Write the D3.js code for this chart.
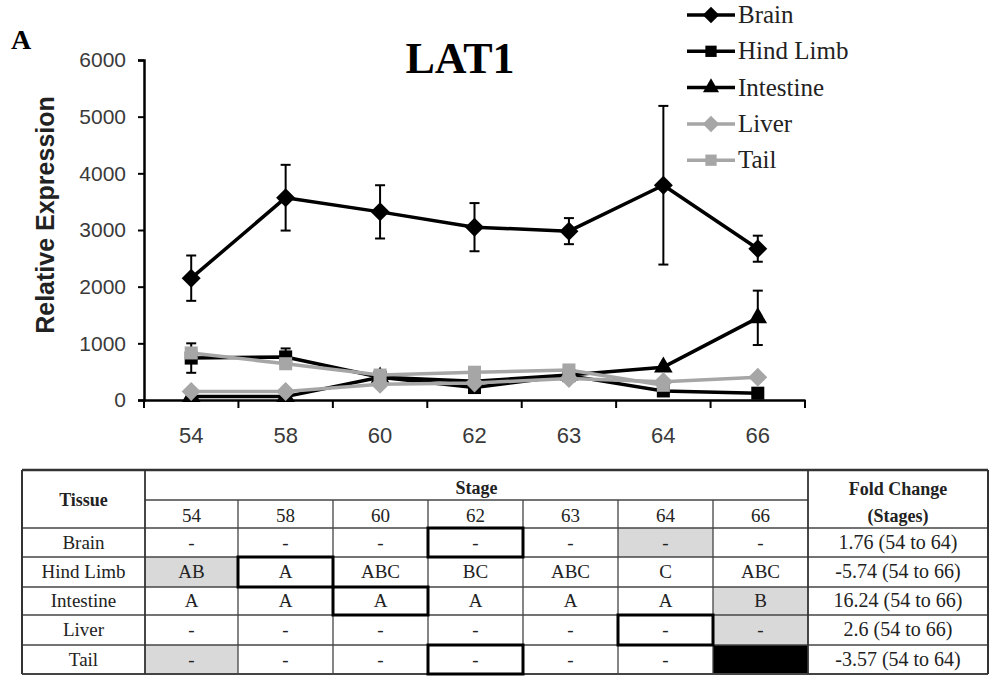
<!DOCTYPE html>
<html><head><meta charset="utf-8">
<script src="https://cdn.jsdelivr.net/npm/d3@7"></script>
<style>body{margin:0;background:#fff}svg{display:block}</style>
</head><body>
<script>
const stages = ["54","58","60","62","63","64","66"];
const yTicks = [0,1000,2000,3000,4000,5000,6000];
const seriesNames = ["Brain","Hind Limb","Intestine","Liver","Tail"];
const brain = [2150,3570,3320,3050,2980,3790,2670];
const brainErr = [400,580,470,425,230,1400,230];
const hindLimb = [740,760,400,220,430,160,120];
const hindLimbErr = [260,150,0,0,0,0,0];
const intestine = [60,60,400,330,440,580,1450];
const intestineErr = [0,0,0,0,0,0,480];
const liver = [150,150,280,300,380,320,400];
const tail = [830,640,440,490,530,260,null];
const seriesColors = ["#000","#000","#000","#a6a6a6","#a6a6a6"];
const seriesSymbols = ["diamond","square","triangle","diamond","square"];

const tissues = ["Brain","Hind Limb","Intestine","Liver","Tail"];
const letters = [
  ["-","-","-","-","-","-","-"],
  ["AB","A","ABC","BC","ABC","C","ABC"],
  ["A","A","A","A","A","A","B"],
  ["-","-","-","-","-","-","-"],
  ["-","-","-","-","-","-",""]
];
const foldChange = ["1.76 (54 to 64)","-5.74 (54 to 66)","16.24 (54 to 66)","2.6 (54 to 66)","-3.57 (54 to 64)"];
// cell styles: g = gray fill, b = thick box, k = black fill
const cellStyle = [
  ["","","","b","","g",""],
  ["g","b","","","","",""],
  ["","","b","","","","g"],
  ["","","","","","b","g"],
  ["g","","","b","","","k"]
];

const W=995,H=676;
const serif="'Liberation Serif','Times New Roman',Times,'DejaVu Serif',serif";
const sans="'Liberation Sans',Arial,Helvetica,sans-serif";
const svg=d3.select("body").append("svg").attr("width",W).attr("height",H);

const x=d3.scaleBand().domain(stages).range([144,805]).paddingInner(0).paddingOuter(0);
const y=d3.scaleLinear().domain([0,6000]).range([400,60]);

svg.append("text").attr("x",11).attr("y",49).attr("font-family",serif)
  .attr("font-weight","bold").attr("font-size",28).text("A");
svg.append("text").attr("x",460).attr("y",73).attr("text-anchor","middle")
  .attr("font-family",serif).attr("font-weight","bold").attr("font-size",44).text("LAT1");

const yAx=svg.append("g").attr("transform","translate(144,0)")
  .call(d3.axisLeft(y).tickValues(yTicks).tickSize(6).tickFormat(d3.format("d")));
yAx.select(".domain").attr("stroke","#000").attr("stroke-width",2.5);
yAx.selectAll(".tick line").attr("stroke","#000").attr("stroke-width",2);
yAx.selectAll(".tick text").attr("font-family",sans).attr("font-size",21)
  .attr("fill","#3a3a3a").attr("x",-18);
svg.append("text").attr("transform","translate(54,215) rotate(-90)").attr("text-anchor","middle")
  .attr("font-family",sans).attr("font-weight","bold").attr("font-size",25)
  .attr("fill","#222").text("Relative Expression");

const xAx=svg.append("g").attr("transform","translate(0,400)")
  .call(d3.axisBottom(x).tickSize(0).tickSizeOuter(0));
xAx.select(".domain").attr("stroke","#000").attr("stroke-width",2.5);
xAx.selectAll(".tick text").attr("font-family",sans).attr("font-size",22)
  .attr("fill","#3a3a3a").attr("dy","1.8em");
const bounds=stages.map(s=>x(s)).concat([x.range()[1]]);
svg.append("g").selectAll("line").data(bounds).join("line")
  .attr("x1",d=>d).attr("x2",d=>d).attr("y1",400).attr("y2",408).attr("stroke","#000").attr("stroke-width",2);

const cx=s=>x(s)+x.bandwidth()/2;
const data=[brain,hindLimb,intestine,liver,tail];
const errs=[brainErr,hindLimbErr,intestineErr,null,null];
const symMap={diamond:d3.symbolDiamond2,square:d3.symbolSquare,triangle:d3.symbolTriangle};
const symSize={diamond:230,square:170,triangle:150};

const plot=svg.append("g");
data.forEach((vals,i)=>{
  const g=plot.append("g");
  const pts=stages.map((s,j)=>({s,v:vals[j],e:errs[i]?errs[i][j]:0})).filter(d=>d.v!==null);
  pts.filter(d=>d.e>0).forEach(d=>{
    const X=cx(d.s);
    g.append("line").attr("x1",X).attr("x2",X).attr("y1",y(d.v+d.e)).attr("y2",y(d.v-d.e)).attr("stroke",seriesColors[i]).attr("stroke-width",2);
    [d.v+d.e,d.v-d.e].forEach(v=>g.append("line").attr("x1",X-5).attr("x2",X+5).attr("y1",y(v)).attr("y2",y(v)).attr("stroke",seriesColors[i]).attr("stroke-width",2));
  });
  g.append("path").datum(pts).attr("fill","none").attr("stroke",seriesColors[i]).attr("stroke-width",3.5)
    .attr("stroke-linejoin","round")
    .attr("d",d3.line().x(d=>cx(d.s)).y(d=>y(d.v)));
  g.selectAll("path.m").data(pts).join("path").attr("class","m")
    .attr("transform",d=>`translate(${cx(d.s)},${y(d.v)})`)
    .attr("d",d3.symbol().type(symMap[seriesSymbols[i]]).size(symSize[seriesSymbols[i]]))
    .attr("fill",seriesColors[i]);
});

const lg=svg.append("g");
seriesNames.forEach((n,i)=>{
  const yy=15+i*36.3;
  lg.append("line").attr("x1",687).attr("x2",735).attr("y1",yy).attr("y2",yy).attr("stroke",seriesColors[i]).attr("stroke-width",3.5);
  lg.append("path").attr("transform",`translate(711,${yy})`)
    .attr("d",d3.symbol().type(symMap[seriesSymbols[i]]).size(symSize[seriesSymbols[i]]*0.75)).attr("fill",seriesColors[i]);
  lg.append("text").attr("x",738).attr("y",yy+8).attr("font-family",serif)
    .attr("font-size",25).attr("fill","#222").text(n);
});

const colX=[22,145,238,333,428,523,618,713,808,988];
const rowY=[470,500,528,557,587,615,645,674];
const tb=svg.append("g");
const line=(x1,y1,x2,y2,w,c)=>tb.append("line").attr("x1",x1).attr("y1",y1).attr("x2",x2).attr("y2",y2).attr("stroke",c||"#444").attr("stroke-width",w||1.3);
tissues.forEach((t,r)=>{
  stages.forEach((s,c)=>{
    const st=cellStyle[r][c];
    if(st==="g"||st==="k"){
      tb.append("rect").attr("x",colX[c+1]).attr("y",rowY[r+2]).attr("width",colX[c+2]-colX[c+1]).attr("height",rowY[r+3]-rowY[r+2])
        .attr("fill",st==="g"?"#d9d9d9":"#000");
    }
  });
});
line(colX[0],rowY[0],colX[9],rowY[0],2.5,"#333");
line(colX[1],rowY[1],colX[8],rowY[1]);
for(let k=2;k<rowY.length;k++) line(colX[0],rowY[k],colX[9],rowY[k],k===rowY.length-1?2:1.3);
line(colX[0],rowY[0],colX[0],rowY[7],2,"#333");
line(colX[9],rowY[0],colX[9],rowY[7],2,"#333");
line(colX[1],rowY[0],colX[1],rowY[7],1.8,"#333");
line(colX[8],rowY[0],colX[8],rowY[7],1.8,"#333");
for(let c=2;c<8;c++) line(colX[c],rowY[1],colX[c],rowY[7]);
tissues.forEach((t,r)=>{
  stages.forEach((s,c)=>{
    if(cellStyle[r][c]==="b"){
      tb.append("rect").attr("x",colX[c+1]).attr("y",rowY[r+2]).attr("width",colX[c+2]-colX[c+1]).attr("height",rowY[r+3]-rowY[r+2])
        .attr("fill","none").attr("stroke","#000").attr("stroke-width",3);
    }
  });
});
const txt=(xx,yy,s,bold,size)=>tb.append("text").attr("x",xx).attr("y",yy).attr("text-anchor","middle")
  .attr("font-family",serif).attr("font-size",size||19).attr("font-weight",bold?"bold":"normal").attr("fill","#222").text(s);
txt((colX[0]+colX[1])/2,506,"Tissue",true,18);
txt((colX[1]+colX[8])/2,494,"Stage",true,18);
txt((colX[8]+colX[9])/2,495,"Fold Change",true,18);
txt((colX[8]+colX[9])/2,522,"(Stages)",true,18);
stages.forEach((s,c)=>txt((colX[c+1]+colX[c+2])/2,522,s,false,19));
tissues.forEach((t,r)=>{
  const cy=(rowY[r+2]+rowY[r+3])/2+6;
  txt((colX[0]+colX[1])/2,cy,t,false,19);
  letters[r].forEach((l,c)=>{ if(l) txt((colX[c+1]+colX[c+2])/2,cy,l,false,19); });
  txt((colX[8]+colX[9])/2,cy,foldChange[r],false,20);
});
</script>
</body></html>
